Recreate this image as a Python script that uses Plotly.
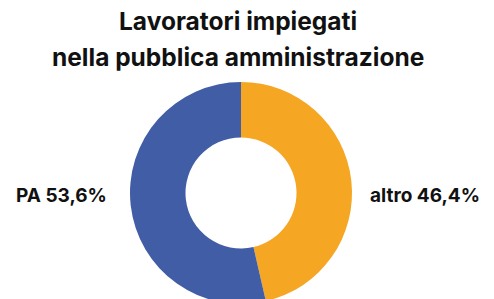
import plotly.graph_objects as go

labels = ["altro", "PA"]
values = [46.4, 53.6]
colors = ["#F5A623", "#415DA5"]
title_lines = ["Lavoratori impiegati", "nella pubblica amministrazione"]

W, H = 494, 299
OFF = 8  # page body margin
cx, cy, r = 241 - OFF, 193 - OFF, 111

fig = go.Figure(go.Pie(
    labels=labels, values=values, hole=0.5, sort=False,
    direction="clockwise", rotation=0,
    marker=dict(colors=colors, line=dict(width=0)),
    textinfo="none", hoverinfo="label+percent", showlegend=False,
    domain=dict(x=[(cx - r) / W, (cx + r) / W],
                y=[(H - cy - r) / H, (H - cy + r) / H]),
))

def fmt(v):
    return f"{v:.1f}%".replace(".", ",")

lab_font = dict(family="Inter", size=19, color="#111111", weight="bold")
fig.add_annotation(x=(424.5 - OFF) / W, y=1 - (195 - OFF) / H, xref="paper", yref="paper",
                   text=f"{labels[0]} {fmt(values[0])}", showarrow=False,
                   font=lab_font, xanchor="center", yanchor="middle")
fig.add_annotation(x=(61.5 - OFF) / W, y=1 - (195 - OFF) / H, xref="paper", yref="paper",
                   text=f"{labels[1]} {fmt(values[1])}", showarrow=False,
                   font=lab_font, xanchor="center", yanchor="middle")

title_font = dict(family="Inter", size=24.5, color="#111111", weight="bold")
for line, yc in zip(title_lines, [21, 56.5]):
    fig.add_annotation(x=(238 - OFF) / W, y=1 - (yc - OFF) / H, xref="paper", yref="paper",
                       text=line, showarrow=False, font=title_font,
                       borderpad=0, borderwidth=0,
                       xanchor="center", yanchor="middle")

fig.update_layout(
    width=W, height=H, margin=dict(l=0, r=0, t=0, b=0),
    paper_bgcolor="white", plot_bgcolor="white",
)

fig.write_html("out.html")
